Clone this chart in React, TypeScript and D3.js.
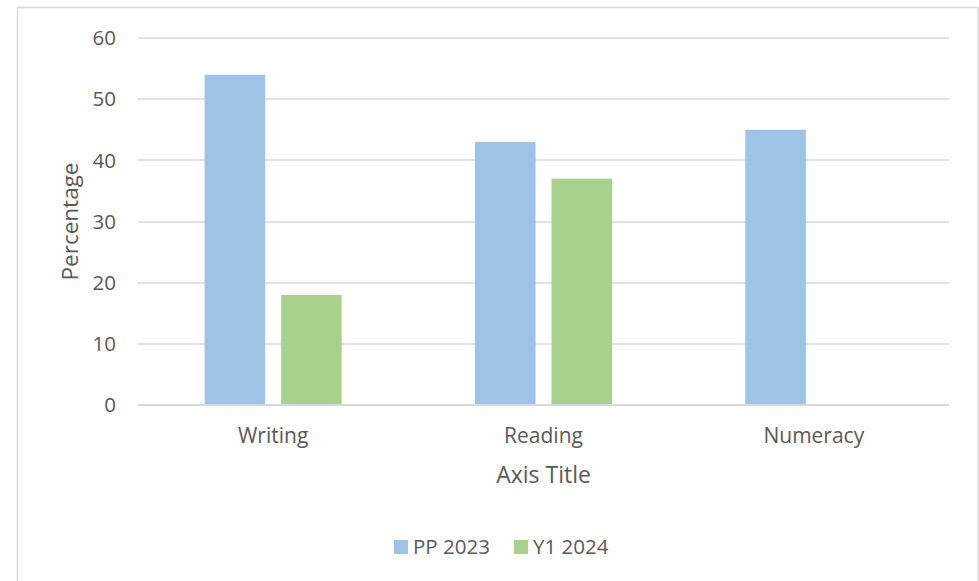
import React from "react";
import * as d3 from "d3";

const categories = ["Writing", "Reading", "Numeracy"];
const seriesNames = ["PP 2023", "Y1 2024"];
const pp2023 = [54, 43, 45];
const y12024: (number | null)[] = [18, 37, null];
const yTicks = [0, 10, 20, 30, 40, 50, 60];
const colors = ["#9DC3E6", "#A9D18E"];

const W = 979;
const H = 581;
const plotLeft = 138;
const plotRight = 949;
const plotTop = 38;
const plotBottom = 405;
const FONT = "'Open Sans', sans-serif";
const TXT = "#595959";

export default function App() {
  const y = d3.scaleLinear().domain([0, 60]).range([plotBottom, plotTop]);
  const x = d3
    .scaleBand<string>()
    .domain(categories)
    .range([plotLeft, plotRight])
    .paddingInner(0.493)
    .paddingOuter(0.2465);
  const xs = d3
    .scaleBand<string>()
    .domain(seriesNames)
    .range([0, x.bandwidth()])
    .paddingInner(0.209);
  const series = [pp2023, y12024];

  return (
    <svg
      width={W}
      height={H}
      style={{ position: "absolute", left: 0, top: 0, display: "block" }}
    >
      <rect x={0} y={0} width={W} height={H} fill="#fff" />
      <rect x={17.5} y={7.5} width={960.5} height={H} fill="#fff" stroke="#d9d9d9" strokeWidth={1.5} />
      {yTicks.map((t) => (
        <g key={t}>
          <line
            x1={plotLeft}
            x2={plotRight}
            y1={Math.round(y(t))}
            y2={Math.round(y(t))}
            stroke="#d9d9d9"
            strokeWidth={t === 0 ? 2 : 1.5}
          />
          <text
            x={116}
            y={y(t)}
            dy="0.35em"
            textAnchor="end"
            fontFamily={FONT}
            fontSize={20.5}
            fill={TXT}
          >
            {t}
          </text>
        </g>
      ))}
      {categories.map((c, i) => (
        <g key={c}>
          {series.map((s, j) =>
            s[i] == null ? null : (
              <rect
                key={j}
                x={(x(c) as number) + (xs(seriesNames[j]) as number)}
                y={y(s[i] as number)}
                width={xs.bandwidth()}
                height={plotBottom - y(s[i] as number) - 1}
                fill={colors[j]}
              />
            )
          )}
          <text
            x={(x(c) as number) + x.bandwidth() / 2}
            y={443}
            textAnchor="middle"
            fontFamily={FONT}
            fontSize={21}
            fill={TXT}
          >
            {c}
          </text>
        </g>
      ))}
      <text
        x={(plotLeft + plotRight) / 2}
        y={483}
        textAnchor="middle"
        fontFamily={FONT}
        fontSize={23}
        fill={TXT}
      >
        Axis Title
      </text>
      <text
        transform={`translate(78,${(plotTop + plotBottom) / 2}) rotate(-90)`}
        textAnchor="middle"
        fontFamily={FONT}
        fontSize={22.5}
        fill={TXT}
      >
        Percentage
      </text>
      {seriesNames.map((n, j) => (
        <g key={n} transform={`translate(${394 + j * 120},0)`}>
          <rect x={0} y={540} width={14} height={14} fill={colors[j]} />
          <text x={19} y={554} fontFamily={FONT} fontSize={20.5} fill={TXT}>
            {n}
          </text>
        </g>
      ))}
    </svg>
  );
}
